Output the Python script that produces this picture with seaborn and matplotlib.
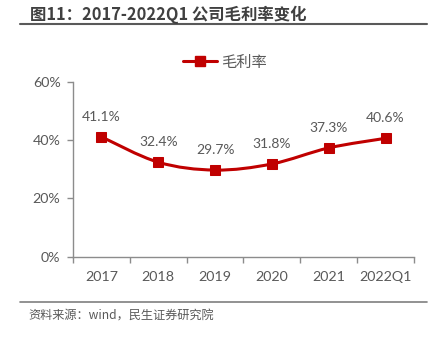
import numpy as np
import pandas as pd
import matplotlib
matplotlib.use("Agg")
import matplotlib.pyplot as plt
from matplotlib.path import Path
from matplotlib.patches import PathPatch
from matplotlib.lines import Line2D
import seaborn as sns

categories = ["2017", "2018", "2019", "2020", "2021", "2022Q1"]
gross_margin = [41.1, 32.4, 29.7, 31.8, 37.3, 40.6]
yticks = [0, 20, 40, 60]
ytick_labels = ["0%", "20%", "40%", "60%"]
series_name = "毛利率"
title = "图11：2017-2022Q1 公司毛利率变化"
source = "资料来源：wind，民生证券研究院"

sns.set_theme(style="white")
plt.rcParams["font.family"] = ["Lato", "Noto Sans CJK SC", "DejaVu Sans"]

RED = "#C00000"
GRAY_TXT = "#595959"
SPINE = "#8c8c8c"

fig = plt.figure(figsize=(4.32, 3.37), dpi=100)
ax = fig.add_axes([73/432, 1-256.7/337, (414-73)/432, (256.7-81.7)/337])

df = pd.DataFrame({"x": np.arange(len(categories)), "y": gross_margin})
sns.lineplot(data=df, x="x", y="y", marker="s", markersize=7, color=RED,
             markeredgecolor=RED, ax=ax, zorder=4)
ax.lines[0].set_linestyle("None")

# smooth (Catmull-Rom -> cubic Bezier) line through the data points
xs = df["x"].to_numpy(float)
ys = df["y"].to_numpy(float)
pts = np.column_stack([xs, ys])
verts = [pts[0]]
codes = [Path.MOVETO]
n = len(pts)
for i in range(n - 1):
    p0 = pts[max(i - 1, 0)]
    p1 = pts[i]
    p2 = pts[i + 1]
    p3 = pts[min(i + 2, n - 1)]
    c1 = p1 + (p2 - p0) / 6.0
    c2 = p2 - (p3 - p1) / 6.0
    verts += [c1, c2, p2]
    codes += [Path.CURVE4] * 3
ax.add_patch(PathPatch(Path(verts, codes), facecolor="none", edgecolor=RED,
                       lw=2.2, zorder=3, capstyle="round"))

for i, v in enumerate(gross_margin):
    ax.annotate(f"{v:.1f}%", (i, v), xytext=(0, 14.5), textcoords="offset points",
                ha="center", va="center", fontsize=10, color=GRAY_TXT)

ax.set_xlim(-0.5, len(categories) - 0.5)
ax.set_ylim(0, 60)
ax.set_yticks(yticks)
ax.set_yticklabels(ytick_labels)
ax.set_xticks(range(len(categories)))
ax.set_xticklabels(categories)
ax.set_xticks(np.arange(-0.5, len(categories), 1.0), minor=True)
ax.set_xlabel("")
ax.set_ylabel("")
for s in ["top", "right"]:
    ax.spines[s].set_visible(False)
for s in ["left", "bottom"]:
    ax.spines[s].set_color(SPINE)
    ax.spines[s].set_linewidth(1.0)
ax.tick_params(axis="y", which="major", direction="out", length=4, width=1,
               color=SPINE, labelcolor=GRAY_TXT, labelsize=10.3, pad=5, left=True)
ax.tick_params(axis="x", which="major", length=0, labelcolor=GRAY_TXT,
               labelsize=10.3, pad=10)
ax.tick_params(axis="x", which="minor", direction="out", length=4, width=1,
               color=SPINE, bottom=True)
ax.grid(False)

handle = Line2D([], [], color=RED, lw=2.2, marker="s", markersize=7,
                markeredgecolor=RED)
fig.legend([handle], [series_name], loc="center", bbox_to_anchor=(225/432, 1-62/337),
           frameon=False, handlelength=2.2, handletextpad=0.3,
           labelcolor=GRAY_TXT, prop={"family": ["Noto Sans CJK SC"], "size": 11})

fig.text(30/432, 1-15/337, title, fontsize=11.8, fontweight="bold", color="#404040",
         va="center", ha="left", family=["Noto Sans CJK SC", "DejaVu Sans"])
fig.add_artist(Line2D([20/432, 427/432], [1-24/337, 1-24/337], color="#595959",
                      lw=1.5, transform=fig.transFigure))
fig.add_artist(Line2D([20/432, 427/432], [1-302/337, 1-302/337], color="#7f7f7f",
                      lw=1.2, transform=fig.transFigure))
fig.text(28/432, 1-316/337, source, fontsize=8.75, color=GRAY_TXT, va="center",
         ha="left", family=["Noto Sans CJK SC", "DejaVu Sans"])

fig.savefig("out.png", dpi=100)
